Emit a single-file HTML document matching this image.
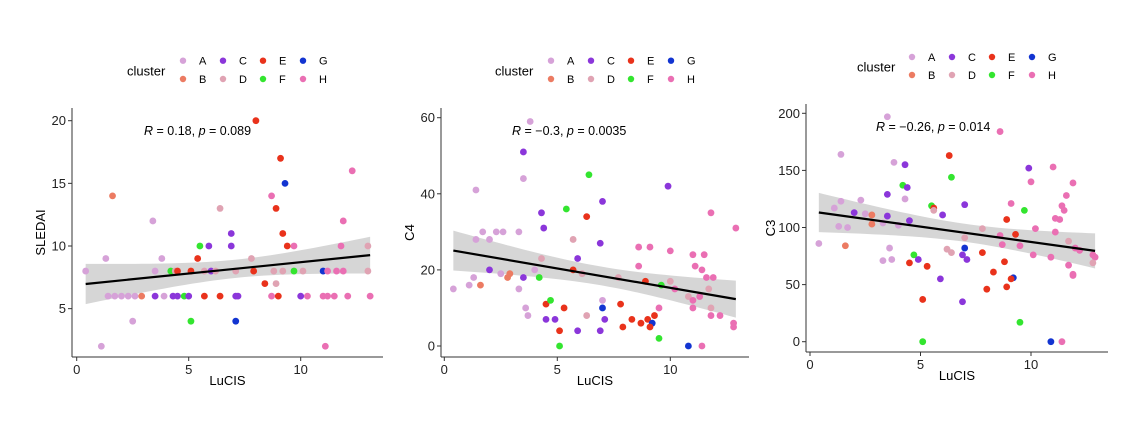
<!DOCTYPE html>
<html><head><meta charset="utf-8">
<style>
html,body{margin:0;padding:0;background:#fff;}
svg{display:block;font-family:"Liberation Sans",Arial,sans-serif;}
</style></head>
<body>
<svg id="c" width="1142" height="425" viewBox="0 0 1142 425"></svg>
<script>
const clusterNames=['A','B','C','D','E','F','G','H'];
const clusterColors={A:'#d6a2d8',B:'#ec7b62',C:'#8b36da',D:'#e0a3b3',E:'#e9321b',F:'#33e52f',G:'#1234d1',H:'#ea6fb3'};

const sledaiPoints=[[8.0,20,'E'],[9.1,17,'E'],[9.3,15,'G'],[1.6,14,'B'],[8.7,14,'H'],[12.3,16,'H'],[6.4,13,'D'],[8.9,13,'E'],[3.4,12,'A'],[11.9,12,'H'],[6.9,11,'C'],[9.2,11,'E'],[5.5,10,'F'],[5.9,10,'C'],[6.9,10,'C'],[9.4,10,'E'],[9.7,10,'H'],[11.8,10,'H'],[13.0,10,'D'],
[1.3,9,'A'],[3.8,9,'A'],[5.4,9,'E'],[7.8,9,'D'],
[0.4,8,'A'],[3.5,8,'A'],[4.2,8,'F'],[4.4,8,'D'],[4.5,8,'E'],[5.1,8,'E'],[5.7,8,'D'],[6.0,8,'C'],[6.2,8,'D'],[7.1,8,'D'],[7.9,8,'E'],[8.8,8,'D'],[9.2,8,'D'],[9.7,8,'F'],[10.1,8,'D'],[11.0,8,'G'],[11.2,8,'H'],[11.6,8,'H'],[11.9,8,'H'],[13.0,8,'D'],
[8.4,7,'E'],[8.9,7,'D'],
[1.4,6,'A'],[1.7,6,'A'],[2.0,6,'A'],[2.3,6,'A'],[2.6,6,'A'],[2.9,6,'B'],[3.5,6,'C'],[3.9,6,'A'],[4.3,6,'C'],[4.5,6,'C'],[4.8,6,'F'],[5.0,6,'C'],[5.7,6,'E'],[6.4,6,'E'],[7.1,6,'C'],[7.2,6,'C'],[8.7,6,'H'],[9.0,6,'E'],[10.0,6,'C'],[10.3,6,'H'],[11.0,6,'H'],[11.2,6,'H'],[11.5,6,'H'],[12.1,6,'H'],[13.1,6,'H'],
[2.5,4,'A'],[5.1,4,'F'],[7.1,4,'G'],[1.1,2,'A'],[11.1,2,'H']];

const c4Points=[[3.8,59,'A'],[3.5,51,'C'],[3.5,44,'A'],[6.4,45,'F'],[9.9,42,'C'],[1.4,41,'A'],[5.4,36,'F'],[7.0,38,'C'],[6.3,34,'E'],[4.3,35,'C'],[11.8,35,'H'],[4.4,31,'C'],[12.9,31,'H'],
[1.4,28,'A'],[1.7,30,'A'],[2.0,28,'A'],[2.3,30,'A'],[2.6,30,'A'],[3.3,30,'A'],[5.7,28,'D'],[6.9,27,'C'],[8.6,26,'H'],[9.1,26,'H'],[10.0,25,'H'],[11.0,24,'H'],[11.5,24,'H'],
[4.3,23,'D'],[5.9,23,'C'],[8.6,21,'H'],[11.1,21,'H'],[11.4,20,'H'],[2.0,20,'C'],[4.0,20,'A'],[5.7,20,'E'],
[1.3,18,'A'],[2.5,19,'A'],[2.9,19,'B'],[2.8,18,'B'],[3.5,18,'C'],[4.2,18,'F'],[6.1,19,'D'],[7.7,18,'D'],[11.6,18,'H'],[11.9,18,'H'],
[0.4,15,'A'],[1.1,16,'A'],[1.6,16,'B'],[3.3,15,'A'],[8.9,17,'E'],[9.6,16,'F'],[10.0,17,'D'],[10.2,15,'H'],[10.8,13,'D'],[11.0,12,'H'],[11.3,13,'H'],[11.7,15,'D'],
[7.0,12,'A'],[7.8,11,'E'],[4.5,11,'E'],[4.7,12,'F'],[5.3,10,'E'],[3.6,10,'A'],[7.0,10,'G'],[9.5,10,'H'],[11.0,10,'H'],[11.8,10,'D'],
[3.7,8,'A'],[6.3,8,'D'],[9.3,8,'E'],[11.8,8,'H'],[12.2,8,'H'],
[4.5,7,'C'],[4.9,7,'C'],[7.1,7,'C'],[8.3,7,'E'],[9.0,7,'E'],[8.7,6,'E'],[9.2,6,'G'],[9.1,5,'E'],[7.9,5,'E'],[12.8,6,'H'],[12.8,5,'H'],
[5.1,4,'E'],[5.9,4,'C'],[6.9,4,'C'],[9.5,2,'F'],[5.1,0,'F'],[10.8,0,'G'],[11.4,0,'H']];

const c3Points=[[3.5,197,'A'],[8.6,184,'H'],[1.4,164,'A'],[6.3,163,'E'],[3.8,157,'A'],[4.3,155,'C'],[9.9,152,'C'],[11.0,153,'H'],[6.4,144,'F'],[10.0,140,'H'],[11.9,139,'H'],[4.2,137,'F'],[4.4,135,'C'],[3.5,129,'C'],[11.6,128,'H'],[2.3,124,'A'],[1.4,123,'A'],[4.3,125,'A'],[9.1,121,'H'],[7.0,120,'C'],[5.5,119,'F'],[11.4,119,'H'],[1.1,117,'A'],[5.6,117,'E'],[5.6,115,'D'],[9.7,115,'F'],[11.5,115,'H'],[2.0,113,'C'],[2.5,112,'A'],[2.8,111,'B'],[3.5,110,'C'],[6.0,111,'C'],[11.1,108,'H'],[11.3,107,'H'],[4.5,106,'C'],[8.9,107,'E'],[2.8,103,'B'],[3.3,104,'A'],[4.0,102,'A'],[1.3,101,'A'],[1.7,100,'A'],[10.2,99,'H'],[7.8,99,'D'],[9.3,94,'E'],[11.1,96,'H'],[7.0,91,'D'],[8.6,93,'H'],[11.7,88,'D'],[0.4,86,'A'],[1.6,84,'B'],[3.6,82,'A'],[7.0,82,'G'],[6.2,81,'D'],[6.4,78,'D'],[7.8,78,'E'],[8.7,85,'H'],[9.5,84,'H'],[12.0,82,'H'],[12.2,80,'H'],[10.1,76,'H'],[10.9,74,'H'],[4.7,76,'F'],[6.9,76,'C'],[12.8,76,'H'],[12.9,74,'H'],[4.9,72,'C'],[7.1,72,'C'],[3.3,71,'A'],[3.7,72,'A'],[4.5,69,'E'],[8.8,70,'E'],[12.8,69,'D'],[5.3,66,'E'],[11.7,67,'H'],[8.3,61,'E'],[11.9,59,'H'],[11.9,58,'H'],[5.9,55,'C'],[9.2,56,'G'],[9.1,55,'E'],[8.0,46,'E'],[8.9,48,'E'],[5.1,37,'E'],[6.9,35,'C'],[9.5,17,'F'],[5.1,0,'F'],[10.9,0,'G'],[11.4,0,'H']];

const xTicks=[0,5,10];
const sledaiTicks=[5,10,15,20];
const c4Ticks=[0,20,40,60];
const c3Ticks=[0,50,100,150,200];
const annotations=['0.18, ','0.089','\u22120.3, ','0.0035','\u22120.26, ','0.014'];

const svg=document.getElementById('c');
const NS='http://www.w3.org/2000/svg';
function mk(tag,attrs,parent){const e=document.createElementNS(NS,tag);for(const k in attrs)e.setAttribute(k,attrs[k]);(parent||svg).appendChild(e);return e;}

const panels=[
 {name:'sledai',pts:sledaiPoints,ticks:sledaiTicks,title:'SLEDAI',ax:72,x0:76.7,xu:22.4,yref:[20,120.7],yu:12.53,bottom:357,top:108,right:383,ann:[144,135,0],leg:[127,183,60.7,79,71],titleX:45},
 {name:'c4',pts:c4Points,ticks:c4Ticks,title:'C4',ax:441,x0:444.3,xu:22.6,yref:[60,117.7],yu:3.805,bottom:357,top:108,right:749,ann:[512,135,2],leg:[495,551,60.7,79,71],titleX:414},
 {name:'c3',pts:c3Points,ticks:c3Ticks,title:'C3',ax:806,x0:810,xu:22.1,yref:[200,113.3],yu:1.142,bottom:352,top:104,right:1108,ann:[876,131,4],leg:[857,912,57,75,67],titleX:775}
];

panels.forEach(p=>{
 const g=mk('g',{});
 
 
 const X=v=>p.x0+v*p.xu, Y=v=>p.yref[1]+(p.yref[0]-v)*p.yu;
 // regression
 const n=p.pts.length;let sx=0,sy=0;p.pts.forEach(d=>{sx+=d[0];sy+=d[1];});
 const mx=sx/n,my=sy/n;let sxx=0,sxy=0;p.pts.forEach(d=>{sxx+=(d[0]-mx)**2;sxy+=(d[0]-mx)*(d[1]-my);});
 const b=sxy/sxx,a=my-b*mx;let sse=0;p.pts.forEach(d=>{sse+=(d[1]-a-b*d[0])**2;});
 const s=Math.sqrt(sse/(n-2)),t=1.99;
 const xs=p.pts.map(d=>d[0]);const xmin=Math.min(...xs),xmax=Math.max(...xs);
 let up=[],lo=[];
 for(let i=0;i<=40;i++){const xv=xmin+(xmax-xmin)*i/40;const yh=a+b*xv;const se=s*Math.sqrt(1/n+(xv-mx)**2/sxx);up.push(X(xv)+','+Y(yh+t*se));lo.unshift(X(xv)+','+Y(yh-t*se));}
 const band=mk('polygon',{points:up.concat(lo).join(' '),fill:'#cccccc','fill-opacity':0.8},g);
 
 
 // points
 p.pts.forEach(d=>{const c=mk('circle',{cx:X(d[0]),cy:Y(d[1]),r:3.4,fill:clusterColors[d[2]]},g);
  
  });
 const ln=mk('line',{x1:X(xmin),y1:Y(a+b*xmin),x2:X(xmax),y2:Y(a+b*xmax),stroke:'#000','stroke-width':2.2},g);
 
 
 // axes
 const ya=mk('line',{x1:p.ax,y1:p.top,x2:p.ax,y2:p.bottom,stroke:'#333','stroke-width':1},g);
 
 
 const xa=mk('line',{x1:p.ax,y1:p.bottom,x2:p.right,y2:p.bottom,stroke:'#333','stroke-width':1},g);
 
 
 p.ticks.forEach(v=>{mk('line',{x1:p.ax-4,x2:p.ax,y1:Y(v),y2:Y(v),stroke:'#333'},g);
  const tt=mk('text',{x:p.ax-6,y:Y(v)+4.5,'text-anchor':'end','font-size':13,fill:'#222'},g);tt.textContent=v;
  
  });
 xTicks.forEach(v=>{mk('line',{x1:X(v),x2:X(v),y1:p.bottom,y2:p.bottom+4,stroke:'#333'},g);
  const tt=mk('text',{x:X(v),y:p.bottom+17,'text-anchor':'middle','font-size':13,fill:'#222'},g);tt.textContent=v;
  
  });
 const xt=mk('text',{x:(p.ax+p.right)/2,y:p.bottom+28,'text-anchor':'middle','font-size':13,fill:'#000'},g);xt.textContent='LuCIS';
 
 
 const ytY=(p.top+p.bottom)/2;
 const yt=mk('text',{x:p.titleX,y:ytY,'text-anchor':'middle','font-size':13,fill:'#000',transform:`rotate(-90 ${p.titleX} ${ytY})`},g);yt.textContent=p.title;
 
 
 // annotation
 const an=mk('text',{x:p.ann[0],y:p.ann[1],'font-size':12.5,fill:'#000'},g);
 
 
 an.innerHTML='<tspan font-style="italic">R</tspan> = '+annotations[p.ann[2]]+'<tspan font-style="italic">p</tspan> = '+annotations[p.ann[2]+1];
 // legend
 const lg=mk('g',{},g);
 
 
 const lt=mk('text',{x:p.leg[0],y:p.leg[4]+4.5,'font-size':13,fill:'#000'},lg);lt.textContent='cluster';
 clusterNames.forEach((cl,i)=>{const col=Math.floor(i/2),row=i%2;const cx=p.leg[1]+col*40,cy=row?p.leg[3]:p.leg[2];
  const d=mk('circle',{cx:cx,cy:cy,r:3.2,fill:clusterColors[cl]},lg);
  
  
  const t=mk('text',{x:cx+16,y:cy+4,'font-size':11,fill:'#000'},lg);t.textContent=cl;
  
  });
});
</script>
</body></html>
